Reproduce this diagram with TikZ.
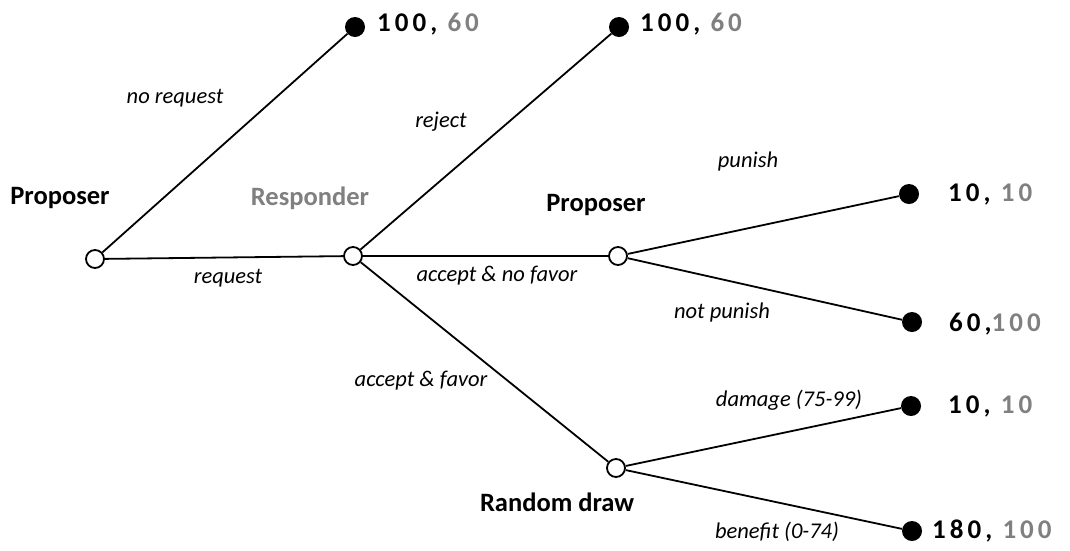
\documentclass[tikz,border=0pt]{standalone}
\usepackage{fontspec}
\setmainfont{Carlito}
\newfontfamily\payfont[LetterSpace=15]{Carlito}
\newcommand{\pay}[2]{{\payfont\bfseries #1\textcolor{gray}{#2}}}

\begin{document}
\begin{tikzpicture}[x=1pt,y=-1pt,
	dec/.style={circle,draw,fill=white,line width=1.8pt,minimum size=18pt,inner sep=0pt},
	term/.style={circle,fill=black,minimum size=20pt,inner sep=0pt},
	act/.style={font=\fontsize{22.5}{26}\selectfont\itshape},
	who/.style={font=\fontsize{26.5}{30}\selectfont\bfseries},
	payoff/.style={anchor=west,inner sep=0pt,font=\fontsize{27}{30}\selectfont}]

	\useasboundingbox (0,0) rectangle (1070,550);

	% decision nodes
	\node[dec] (p1) at (95,259) {};
	\node[dec] (r) at (353,256) {};
	\node[dec] (p2) at (618,256) {};
	\node[dec] (nat) at (616,468) {};

	% end nodes
	\node[term] (t1) at (355,27) {};
	\node[term] (t2) at (619,27) {};
	\node[term] (t3) at (909,194) {};
	\node[term] (t4) at (912,322) {};
	\node[term] (t5) at (911,406) {};
	\node[term] (t6) at (912,531) {};

	\begin{scope}[line width=1.8pt]
	\draw (p1) -- (t1);
	\draw (p1) -- (r);
	\draw (r) -- (t2);
	\draw (r) -- (p2);
	\draw (r) -- (nat);
	\draw (p2) -- (t3);
	\draw (p2) -- (t4);
	\draw (nat) -- (t5);
	\draw (nat) -- (t6);
	\end{scope}

	% players
	\node[who] (w1) at (60,198) {Proposer};
	\node[who,text=gray] (w2) at (310,198) {Responder};
	\node[who] (w3) at (596,205) {Proposer};
	\node[who] (w4) at (557,502) {Random draw};

	% actions
	\node[act] (a1) at (175,98) {no request};
	\node[act] (a2) at (228,278) {request};
	\node[act] (a3) at (441,122) {reject};
	\node[act] (a4) at (497,276) {accept \& no favor};
	\node[act] (a5) at (748,161) {punish};
	\node[act] (a6) at (722,312) {not punish};
	\node[act] (a7) at (421,381) {accept \& favor};
	\node[act] (a8) at (789,400) {damage (75-99)};
	\node[act] (a9) at (777,532) {benefit (0-74)};

	% payoffs
	\node[payoff] (v1) at (377,24) {\pay{100, }{60}};
	\node[payoff] (v2) at (640,24) {\pay{100, }{60}};
	\node[payoff] (v3) at (948,194) {\pay{10, }{10}};
	\node[payoff] (v4) at (949,324) {\pay{60,}{100}};
	\node[payoff] (v5) at (948,406) {\pay{10, }{10}};
	\node[payoff] (v6) at (932,531) {\pay{180, }{100}};

\end{tikzpicture}
\end{document}
